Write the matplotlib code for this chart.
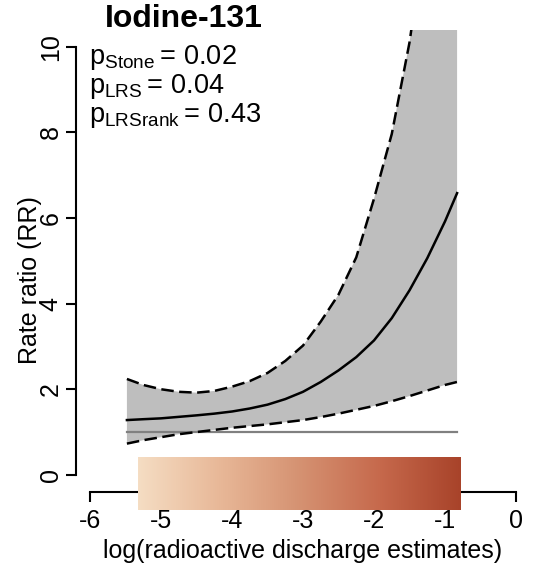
import numpy as np
import matplotlib
matplotlib.use('Agg')
import matplotlib.pyplot as plt
from matplotlib.colors import LinearSegmentedColormap

plt.rcParams['font.family'] = ['Liberation Sans', 'DejaVu Sans']
plt.rcParams['mathtext.fontset'] = 'custom'
plt.rcParams['mathtext.rm'] = 'Liberation Sans'
plt.rcParams['mathtext.it'] = 'Liberation Sans'

# spline fit
x = [-5.48, -5.25, -5.0, -4.75, -4.5, -4.25, -4.0, -3.75, -3.5, -3.25,
     -3.0, -2.75, -2.5, -2.25, -2.0, -1.75, -1.5, -1.25, -1.0, -0.83]
rr = [1.28, 1.30, 1.32, 1.355, 1.39, 1.43, 1.48, 1.55, 1.64, 1.77,
      1.94, 2.17, 2.44, 2.75, 3.14, 3.66, 4.31, 5.06, 5.92, 6.58]
upper = [2.24, 2.10, 2.00, 1.94, 1.92, 1.96, 2.06, 2.19, 2.38, 2.66,
         3.02, 3.58, 4.21, 5.08, 6.45, 7.96, 10.1, 13.0, 16.5, 19.0]
lower = [0.73, 0.81, 0.88, 0.95, 1.00, 1.05, 1.10, 1.14, 1.18, 1.23,
         1.28, 1.35, 1.43, 1.52, 1.61, 1.72, 1.84, 1.97, 2.10, 2.17]

# exposure range shown by the colour bar
bar_range = [-5.32, -0.775]
bar_colors = ['#F5DDC3', '#E8B898', '#D59272', '#C6694C', '#A8432A']

yticks = [0, 2, 4, 6, 8, 10]
xticks = [-6, -5, -4, -3, -2, -1, 0]
pvals = [('Stone', '0.02'), ('LRS', '0.04'), ('LRSrank', '0.43')]

W, H = 536, 568
fig = plt.figure(figsize=(W / 100, H / 100), dpi=100)
ax = fig.add_axes([76 / W, (H - 492) / H, 454 / W, 462 / H])

ax.fill_between(x, lower, upper, color='#BEBEBE', lw=0, zorder=1)
ax.plot([x[0], x[-1]], [1, 1], color='#808080', lw=1.6, zorder=2)
ax.plot(x, rr, color='black', lw=1.8, zorder=3)
ax.plot(x, upper, color='black', lw=1.8, ls=(0, (5, 2.2)), zorder=3)
ax.plot(x, lower, color='black', lw=1.8, ls=(0, (5, 2.2)), zorder=3)

cmap = LinearSegmentedColormap.from_list('disc', bar_colors)
grad = np.linspace(0, 1, 256).reshape(1, -1)
ax.imshow(grad, cmap=cmap, aspect='auto', extent=[bar_range[0], bar_range[1], -0.82, 0.40],
          clip_on=False, zorder=6)

ax.set_xlim(-6.197, 0.197)
ax.set_ylim(-0.4, 10.39)

for s in ['top', 'right']:
    ax.spines[s].set_visible(False)
ax.spines['left'].set_bounds(0, 10)
ax.spines['bottom'].set_bounds(-6, 0)
for s in ['left', 'bottom']:
    ax.spines[s].set_linewidth(1.5)

ax.set_yticks(yticks)
ax.set_yticklabels([str(v) for v in yticks], rotation=90, va='center')
ax.set_xticks(xticks)
ax.set_xticklabels([str(v) for v in xticks])
ax.tick_params(axis='both', length=7.5, width=1.5, labelsize=18)
ax.tick_params(axis='y', pad=2)
ax.tick_params(axis='x', pad=5)

fig.text(30 / W, 1 - 280 / H, 'Rate ratio (RR)', rotation=90, ha='center', va='center', fontsize=18)
fig.text(303 / W, 1 - 551 / H, 'log(radioactive discharge estimates)', ha='center', va='center', fontsize=18)
fig.text(184 / W, 1 - 19 / H, 'Iodine-131', ha='center', va='center', fontsize=23, fontweight='bold')

for i, (name, p) in enumerate(pvals):
    fig.text(89 / W, 1 - (64 + 29 * i) / H, r'$\mathrm{p}_{\mathrm{%s}}=\,%s$' % (name, p),
             ha='left', va='baseline', fontsize=19.5)

fig.savefig('out.png', dpi=100)
